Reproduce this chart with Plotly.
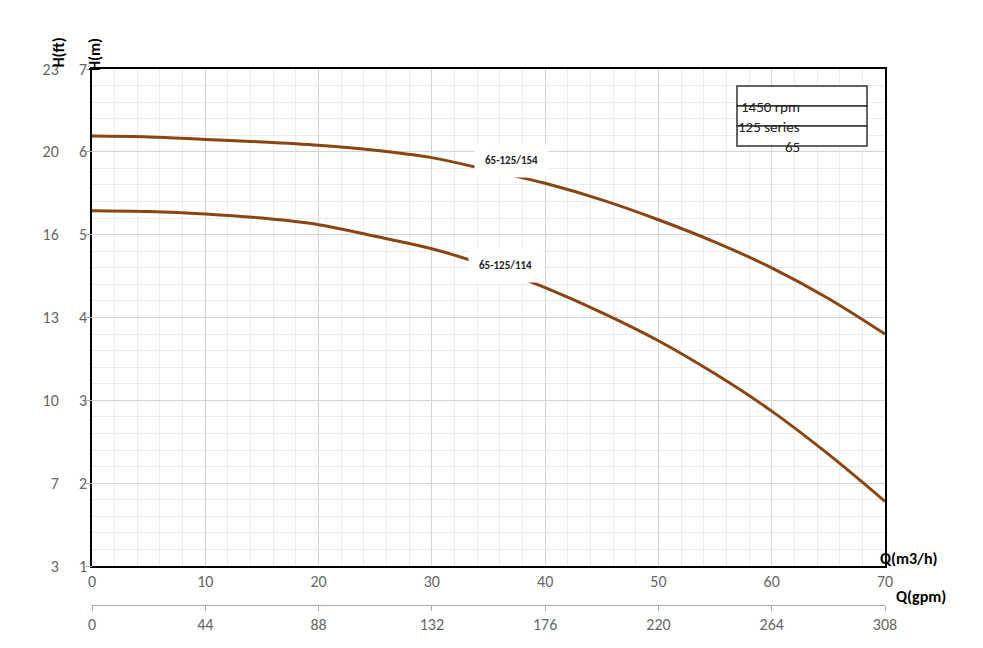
import plotly.graph_objects as go

# Flow (m3/h) and head (m)
q = [0, 5, 10, 15, 20, 25, 30, 35, 40, 45, 50, 55, 60, 65, 70]
h_154 = [6.19, 6.18, 6.15, 6.12, 6.08, 6.02, 5.93, 5.78, 5.62, 5.42, 5.18, 4.91, 4.60, 4.23, 3.80]
h_114 = [5.29, 5.28, 5.25, 5.20, 5.12, 4.98, 4.83, 4.62, 4.36, 4.06, 3.72, 3.32, 2.87, 2.35, 1.78]

m_ticks = [1, 2, 3, 4, 5, 6, 7]
ft_labels = ["3", "7", "10", "13", "16", "20", "23"]
q_ticks = [0, 10, 20, 30, 40, 50, 60, 70]
gpm_labels = ["0", "44", "88", "132", "176", "220", "264", "308"]
info_rows = ["1450 rpm", "125 series", "65"]

BROWN = "#8B4513"
FONT = "Calibri, Carlito, Liberation Sans, sans-serif"
YDOM = [0.1386, 1]


def px_to_paper(x, y):
    return (x - 84) / 793, 1 - (y - 61) / 577


fig = go.Figure()
for h, name in [(h_154, "65-125/154"), (h_114, "65-125/114")]:
    fig.add_trace(go.Scatter(x=q, y=h, mode="lines", name=name,
                             line=dict(color=BROWN, width=3, shape="spline"),
                             showlegend=False))
fig.add_trace(go.Scatter(x=[0, 70], y=[None, None], xaxis="x2", showlegend=False))
fig.add_trace(go.Scatter(x=[None], y=[None], yaxis="y2", showlegend=False))

grid = dict(showgrid=True, gridcolor="#d4d4d4", gridwidth=1)
minor = dict(showgrid=True, gridcolor="#ececec", gridwidth=1)

fig.update_layout(
    width=983, height=648,
    margin=dict(l=84, r=106, t=61, b=10, autoexpand=False),
    paper_bgcolor="white", plot_bgcolor="white",
    font=dict(family=FONT, size=16, color="#666"),
    xaxis=dict(range=[0, 70], tickvals=q_ticks, ticks="outside", ticklen=0,
               showline=True, linecolor="black", linewidth=1.5, mirror=True,
               zeroline=False, automargin=False, minor=dict(dtick=2, **minor), **grid),
    yaxis=dict(range=[1, 7], tickvals=m_ticks, domain=YDOM, ticks="outside",
               ticklen=0, showline=True, linecolor="black", linewidth=1.5,
               mirror=True, zeroline=False, automargin=False,
               minor=dict(dtick=0.2, **minor), **grid),
    yaxis2=dict(range=[1, 7], tickvals=m_ticks, ticktext=ft_labels, domain=YDOM,
                overlaying="y", anchor="free", position=0, side="left",
                showgrid=False, zeroline=False, ticks="outside", ticklen=6,
                tickcolor="#aaa", ticklabelstandoff=24, automargin=False),
    xaxis2=dict(range=[0, 70], tickvals=q_ticks, ticktext=gpm_labels,
                overlaying="x", anchor="free", position=0.071, side="bottom",
                showgrid=False, zeroline=False, showline=True, linecolor="#aaa",
                ticks="outside", ticklen=5, tickcolor="#aaa", automargin=False),
)

# curve labels on white patches
for x, y, t in [(37, 5.9, "65-125/154"), (36.5, 4.63, "65-125/114")]:
    fig.add_annotation(x=x, y=y, text="<b>" + t + "</b>", showarrow=False,
                       font=dict(size=11, color="#222", family=FONT),
                       bgcolor="white", borderpad=10)

# info table (pixel positions of the box)
bx0, bx1 = 729, 859
rows_y = [78, 98, 118, 138]
for i, row in enumerate(info_rows):
    px0, py1 = px_to_paper(bx0, rows_y[i])
    px1, py0 = px_to_paper(bx1, rows_y[i + 1])
    fig.add_shape(type="rect", xref="paper", yref="paper",
                  x0=px0, x1=px1, y0=py0, y1=py1,
                  line=dict(color="#333", width=1.5), fillcolor="white")
    fig.add_annotation(xref="paper", yref="paper", x=(px0 + px1) / 2,
                       y=(py0 + py1) / 2, text=row, showarrow=False,
                       font=dict(size=15, color="#222"))

# axis titles
for x, y, t, ang in [(38, 28, "H(ft)", -90), (75, 28, "H(m)", -90),
                     (932, 562, "Q(m3/h)", 0), (940, 600, "Q(gpm)", 0)]:
    ax, ay = px_to_paper(x, y)
    fig.add_annotation(xref="paper", yref="paper", x=ax, y=ay,
                       text="<b>" + t + "</b>", showarrow=False, textangle=ang,
                       font=dict(size=16, color="black"))

fig.write_html("out.html")
